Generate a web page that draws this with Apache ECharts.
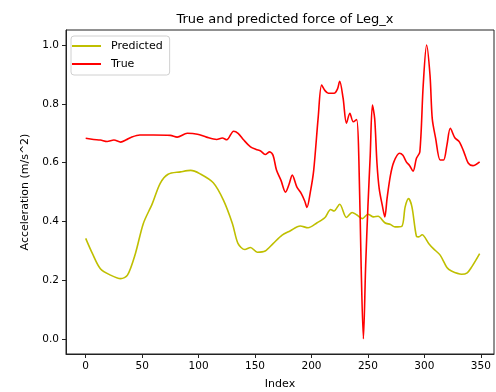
<!DOCTYPE html>
<html>
<head>
<meta charset="utf-8">
<script src="https://cdn.jsdelivr.net/npm/echarts@6/dist/echarts.min.js"></script>
<style>html,body{margin:0;padding:0;background:#fff}#c{width:496px;height:392px}</style>
</head>
<body>
<div id="c"></div>
<script>
const titleText = 'True and predicted force of Leg_x';
const xName = 'Index';
const yName = 'Acceleration (m/s^2)';
const xTicks = [0, 50, 100, 150, 200, 250, 300, 350];
const yTicks = [0, 0.2, 0.4, 0.6, 0.8, 1.0];

const trueIdx = [0,7,13,19,25,31,36,40,48,60,75,81,90,99,107,116,121,125,131,135,140,146,151,155,159,163,166,169,173,177,180,183,187,191,194,196,199,202,206,209,212,215,220,223,225,228,231,234,237,240,242,244,246,248,250,252,254,256,258,260,263,265,267,270,273,278,281,284,287,290,293,296,299,302,305,307,310,314,317,320,323,327,331,335,339,343,349];
const trueVal = [0.683,0.679,0.677,0.672,0.677,0.670,0.678,0.686,0.694,0.694,0.693,0.687,0.700,0.697,0.687,0.679,0.684,0.678,0.707,0.700,0.677,0.654,0.645,0.640,0.628,0.637,0.625,0.575,0.540,0.500,0.525,0.558,0.518,0.495,0.470,0.448,0.500,0.575,0.756,0.864,0.845,0.836,0.836,0.850,0.877,0.820,0.734,0.768,0.739,0.747,0.609,0.250,0.002,0.250,0.450,0.620,0.796,0.750,0.600,0.512,0.450,0.416,0.480,0.558,0.603,0.632,0.625,0.603,0.590,0.571,0.615,0.637,0.864,1.000,0.898,0.750,0.683,0.609,0.609,0.660,0.717,0.685,0.671,0.637,0.598,0.590,0.603];

const predIdx = [0,6,13,22,31,37,44,51,59,66,73,84,93,101,113,122,130,135,141,146,152,159,166,174,181,190,197,205,212,217,220,225,231,236,240,245,250,255,259,265,270,274,280,283,286,289,293,295,298,304,308,314,320,324,333,338,342,349];
const predVal = [0.343,0.291,0.240,0.218,0.206,0.218,0.291,0.393,0.461,0.530,0.561,0.569,0.574,0.563,0.532,0.473,0.393,0.325,0.305,0.312,0.296,0.300,0.325,0.354,0.368,0.385,0.379,0.396,0.414,0.441,0.436,0.459,0.414,0.431,0.423,0.410,0.425,0.416,0.418,0.396,0.390,0.382,0.384,0.450,0.478,0.450,0.350,0.348,0.355,0.325,0.308,0.286,0.244,0.232,0.221,0.226,0.246,0.291];

const pair = (xs, ys) => xs.map((x, i) => [x, ys[i]]);
const font = 'DejaVu Sans';

const chart = echarts.init(document.getElementById('c'), null, {renderer: 'canvas'});
chart.setOption({
  animation: false,
  backgroundColor: '#fff',
  title: {
    text: titleText, left: 280, top: 8, textAlign: 'center',
    textStyle: {fontFamily: font, fontSize: 13, fontWeight: 'normal', color: '#000'}
  },
  grid: {left: 66, right: 2, top: 30, bottom: 38, show: true, borderColor: '#222', borderWidth: 1, outerBoundsMode: 'none'},
  legend: {
    orient: 'vertical', left: 71, top: 36,
    padding: [3, 7, 4, 1], itemGap: 4,
    backgroundColor: '#fff', borderColor: '#d0d0d0', borderWidth: 1, borderRadius: 3,
    itemWidth: 29, itemHeight: 2, icon: 'rect',
    textStyle: {fontFamily: font, fontSize: 11, color: '#000', lineHeight: 14, padding: [0, 0, 0, 5]},
    data: ['Predicted', 'True']
  },
  xAxis: {
    type: 'value', min: -17.45, max: 361.7,
    name: xName, nameLocation: 'middle', nameGap: 25,
    nameTextStyle: {fontFamily: font, fontSize: 11, color: '#000'},
    splitLine: {show: false},
    axisLine: {show: true, onZero: false, lineStyle: {color: '#222'}},
    axisTick: {show: true, length: 4, inside: false, customValues: xTicks, lineStyle: {color: '#222'}},
    axisLabel: {customValues: xTicks, margin: 7, fontFamily: font, fontSize: 10.5, color: '#000', showMinLabel: true, showMaxLabel: true}
  },
  yAxis: {
    type: 'value', min: -0.05, max: 1.051,
    name: yName, nameLocation: 'middle', nameGap: 35, nameRotate: 90,
    nameTextStyle: {fontFamily: font, fontSize: 11, color: '#000'},
    splitLine: {show: false},
    axisLine: {show: true, onZero: false, lineStyle: {color: '#222'}},
    axisTick: {show: true, length: 4, inside: false, customValues: yTicks, lineStyle: {color: '#222'}},
    axisLabel: {customValues: yTicks, margin: 7, fontFamily: font, fontSize: 10.5, color: '#000',
      formatter: v => v.toFixed(1)}
  },
  series: [
    {name: 'Predicted', type: 'line', data: pair(predIdx, predVal), showSymbol: false, smooth: 0.3,
     color: '#bfbf00', lineStyle: {width: 1.6, color: '#bfbf00'}},
    {name: 'True', type: 'line', data: pair(trueIdx, trueVal), showSymbol: false, smooth: 0.3,
     color: '#ff0000', lineStyle: {width: 1.6, color: '#ff0000'}}
  ]
});
</script>
</body>
</html>
